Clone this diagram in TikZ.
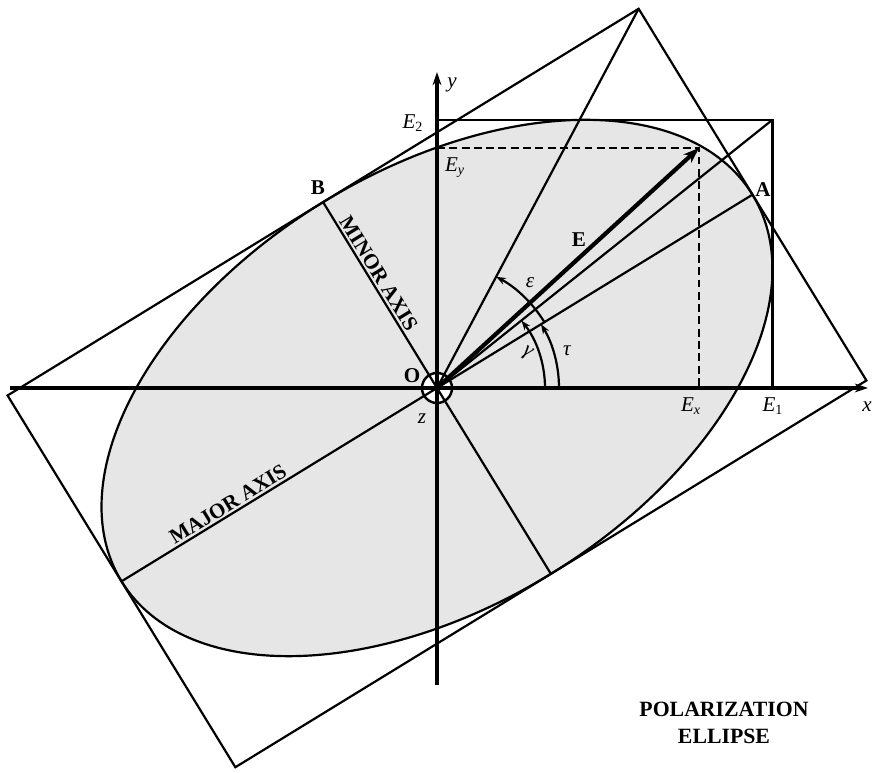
\documentclass[tikz,border=0pt]{standalone}
\usepackage{fontspec}
\setmainfont{Liberation Serif}
\usetikzlibrary{arrows.meta}
\definecolor{ellgray}{RGB}{230,230,230}

\begin{document}
\begin{tikzpicture}[
    x=0.02cm, y=0.02cm,
    ln/.style={line width=1.25pt},
    axisln/.style={line width=1.8pt, -{Stealth[length=7.5pt, width=5pt]}},
    vecln/.style={line width=2.4pt, -{Stealth[length=9pt, width=6.5pt]}},
    dashln/.style={line width=1.25pt, dash pattern=on 4.5pt off 2.5pt},
    angarrow/.style={line width=1.25pt, -{Stealth[length=5.5pt, width=4pt]}},
    lbl/.style={font=\fontsize{12}{14}\selectfont\itshape, inner sep=1pt},
    tag/.style={font=\fontsize{12}{14}\selectfont\bfseries, inner sep=1pt},
    axistext/.style={font=\fontsize{12}{14}\selectfont\bfseries, inner sep=1.5pt},
    title/.style={font=\fontsize{12.4}{15}\selectfont\bfseries, align=center}
]
    \useasboundingbox (-437,-385) rectangle (435,388);

    \coordinate (O) at (0,0);
    % tilted rectangle round the ellipse
    \coordinate (Rt) at (62:429.5);
    \coordinate (Rr) at (1:429.5);
    \coordinate (Rb) at (242:429.5);
    \coordinate (Rl) at (181:429.5);
    \coordinate (A) at (31.5:370);
    \coordinate (Amaj) at (211.5:370);
    \coordinate (B) at (121.5:218);
    \coordinate (Bmin) at (301.5:218);
    \coordinate (E2) at (0,268.2);
    \coordinate (E1) at (335.4,0);
    \coordinate (Ecor) at (335.4,268.2);
    \coordinate (Ey) at (0,240);
    \coordinate (Ex) at (262,0);
    \coordinate (Etip) at (262,240);
    \coordinate (xl) at (-427,0);
    \coordinate (xr) at (431,0);
    \coordinate (yb) at (0,-297);
    \coordinate (yt) at (0,316);

    \draw[ln, fill=ellgray, rotate=31.5] (O) ellipse[x radius=370, y radius=218];
    \draw[ln] (Rt) -- (Rl) -- (Rb) -- (Rr) -- cycle;
    \node[circle, draw, line width=1.4pt, fill=white, minimum size=30*0.02cm, inner sep=0pt] (ring) at (O) {};

    \draw[ln] (Amaj) -- (A);
    \draw[ln] (B) -- (Bmin);
    \draw[ln] (O) -- (Rt);
    \draw[ln] (O) -- (Ecor);
    \draw[ln] (E2) -- (Ecor) -- (E1);
    \draw[dashln] (Ey) -- (Etip) -- (Ex);
    \draw[axisln] (xl) -- (xr);
    \draw[axisln] (yb) -- (yt);
    \draw[vecln] (O) -- (Etip);

    % angles
    \draw[angarrow] (108,0) arc[start angle=0, end angle=38.6, radius=108];
    \draw[angarrow] (122,0) arc[start angle=0, end angle=31.5, radius=122];
    \draw[angarrow] (31.5:126) arc[start angle=31.5, end angle=62, radius=126];

    \node[lbl] (ylab) at (15,303) {y};
    \node[lbl] (xlab) at (430,-19) {x};
    \node[lbl] (E2lab) at (-24,265) {E\textsubscript{\upshape 2}};
    \node[lbl] (Eylab) at (18,220) {E\textsubscript{y}};
    \node[lbl] (Exlab) at (254,-18) {E\textsubscript{x}};
    \node[lbl] (E1lab) at (336,-18) {E\textsubscript{\upshape 1}};
    \node[tag] (Alab) at (326,198) {A};
    \node[tag] (Blab) at (-119,200) {B};
    \node[tag] (Elab) at (142,148) {E};
    \node[tag] (Olab) at (-25,12) {O};
    \node[lbl] (zlab) at (-15,-31) {z};
    \node[lbl] (eps) at (93,105) {ε};
    \node[lbl, rotate=-30] (gam) at (90,35) {γ};
    \node[lbl] (tau) at (130,37) {τ};

    \node[axistext, rotate=-58.5, anchor=south] (minlab) at (121.5:128) {MINOR AXIS};
    \node[axistext, rotate=31.5, anchor=south] (majlab) at (211.5:239) {MAJOR AXIS};
    \node[title] (caption) at (287,-335) {POLARIZATION\\ELLIPSE};
\end{tikzpicture}
\end{document}
